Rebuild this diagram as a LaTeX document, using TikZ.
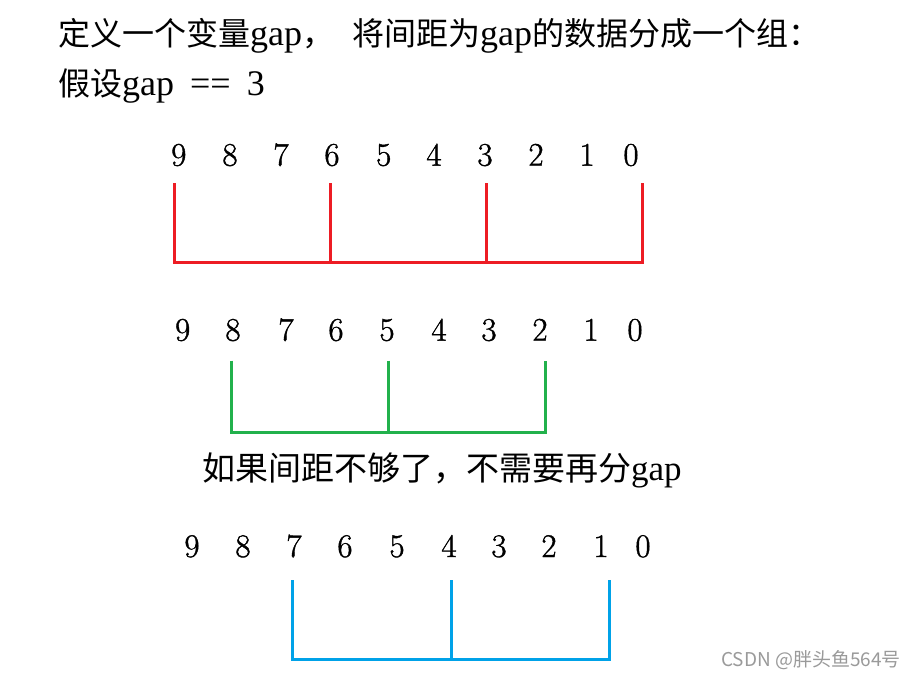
\documentclass[tikz,border=0pt]{standalone}
\usepackage{fontspec}
\setmainfont{Liberation Serif}
\newfontfamily\cjk{Noto Sans CJK SC}
\newfontfamily\lmr{Latin Modern Roman}[FakeBold=1.2]
\definecolor{gred}{HTML}{ED1C24}
\definecolor{ggreen}{HTML}{22B14C}
\definecolor{gblue}{HTML}{00A2E8}
\definecolor{wmark}{HTML}{9A9A9A}
\newcommand{\zh}[1]{{\cjk\fontsize{32}{40}\selectfont #1}}
\newcommand{\zhm}[1]{{\cjk\fontsize{33}{40}\selectfont #1}}
\tikzset{
  digit/.style={anchor=base, inner sep=0pt, font=\lmr\fontsize{33}{40}\selectfont},
  headline/.style={anchor=base west, inner sep=0pt, font=\fontsize{36}{40}\selectfont},
  bracketline/.style={line width=3pt, line join=miter},
  redb/.style={bracketline, draw=gred},
  greenb/.style={bracketline, draw=ggreen},
  blueb/.style={bracketline, draw=gblue},
}
\begin{document}
\begin{tikzpicture}[x=1pt,y=-1pt]
\fill[white] (0,0) rectangle (919,678);
\useasboundingbox (0,0) rectangle (919,678);

% headings
\node[headline] (t1) at (58,45) {\zh{定义一个变量}gap\zh{，}\hspace{18pt}\zh{将间距为}gap\zh{的数据分成一个组：}};
\node[headline] (t2) at (58,95) {\zh{假设}gap\hspace{16pt}==\hspace{16pt}3};
\node[headline, font=\fontsize{35}{40}\selectfont] (t3) at (202,480) {\zhm{如果间距不够了，不需要再分}gap};

% row 1
\foreach \d/\x in {9/178.8,8/230,7/281,6/332,5/383.7,4/434,3/485,2/536,1/587,0/631}
  \node[digit] (ra\d) at (\x,165.7) {\d};
% row 2
\foreach \d/\x in {9/182.7,8/233,7/286,6/336,5/387,4/439,3/489,2/540,1/591,0/635}
  \node[digit] (rb\d) at (\x,340.7) {\d};
% row 3
\foreach \d/\x in {9/192,8/243,7/294,6/345,5/397,4/449,3/499,2/549,1/601,0/643}
  \node[digit] (rc\d) at (\x,557) {\d};

% red bracket
\coordinate (a1t) at (174,183);   \coordinate (a1b) at (174,262);
\coordinate (a2t) at (330,183);   \coordinate (a2b) at (330,262);
\coordinate (a3t) at (486,183);   \coordinate (a3b) at (486,262);
\coordinate (a4t) at (642,183);   \coordinate (a4b) at (642,262);
\draw[redb] (a1t) -- (a1b) -- (a4b) -- (a4t);
\draw[redb] (a2t) -- (a2b);
\draw[redb] (a3t) -- (a3b);

% green bracket
\coordinate (b1t) at (231,360.7);   \coordinate (b1b) at (231,432.3);
\coordinate (b2t) at (388.3,360.7); \coordinate (b2b) at (388.3,432.3);
\coordinate (b3t) at (545.7,360.7); \coordinate (b3b) at (545.7,432.3);
\draw[greenb] (b1t) -- (b1b) -- (b3b) -- (b3t);
\draw[greenb] (b2t) -- (b2b);

% blue bracket
\coordinate (c1t) at (292.7,580);   \coordinate (c1b) at (292.7,659);
\coordinate (c2t) at (451,580);     \coordinate (c2b) at (451,659);
\coordinate (c3t) at (609.3,580);   \coordinate (c3b) at (609.3,659);
\draw[blueb] (c1t) -- (c1b) -- (c3b) -- (c3t);
\draw[blueb] (c2t) -- (c2b);

% watermark
\node[anchor=base west, inner sep=0pt, text=wmark, font=\cjk\fontsize{19}{22}\selectfont] (wm) at (721,666) {CSDN @胖头鱼564号};
\end{tikzpicture}
\end{document}
